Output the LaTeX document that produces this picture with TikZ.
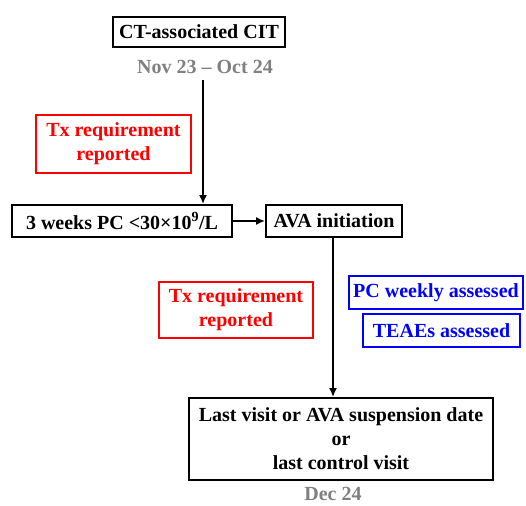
\documentclass[tikz,border=0pt]{standalone}
\usepackage{fontspec}
\setmainfont{Liberation Serif}
\usetikzlibrary{arrows.meta}
\begin{document}
\begin{tikzpicture}[x=1pt,y=-1pt,
box/.style={draw,line width=1.9pt,inner sep=0pt,align=center,font=\bfseries\fontsize{20}{24}\selectfont},
redbox/.style={box,draw=red,text=red,line width=1.5pt},
bluebox/.style={box,draw=blue,text=blue,line width=1.5pt},
datelabel/.style={text=gray,inner sep=0pt,font=\bfseries\fontsize{20}{22}\selectfont},
flow/.style={draw,line width=1.7pt,-{Latex[length=9pt,width=8pt]}}]
\useasboundingbox (0,0) rectangle (526,505);
% top of the timeline
\node[box,minimum width=172pt,minimum height=30pt] (cit) at (199,32) {CT-associated CIT};
\node[datelabel] (start) at (205,67) {Nov 23 -- Oct 24};
\coordinate (startgap) at (203,80);
\node[redbox,minimum width=155pt,minimum height=58pt] (txfirst) at (113.5,144) {Tx requirement\\reported};
% treatment start
\node[box,minimum width=220pt,minimum height=32pt] (pc) at (122,221) {3 weeks PC <30×10\textsuperscript{9}/L};
\node[box,minimum width=136pt,minimum height=32pt] (ava) at (334,221) {AVA initiation};
% follow-up
\node[redbox,minimum width=154pt,minimum height=56pt] (txsecond) at (236,310) {Tx requirement\\reported};
\node[bluebox,minimum width=174pt,minimum height=33pt] (weekly) at (436,292.5) {PC weekly assessed};
\node[bluebox,minimum width=157pt,minimum height=33pt] (teae) at (441.5,330.5) {TEAEs assessed};
\node[box,minimum width=304pt,minimum height=82pt] (last) at (341,439) {Last visit or AVA suspension date\\or\\last control visit};
\node[datelabel] (finish) at (333,494) {Dec 24};
% connectors
\draw[flow] (startgap) -- (startgap |- pc.north);
\draw[flow] (pc) -- (ava);
\draw[flow] (ava.south -| 333,0) -- (last.north -| 333,0);
\end{tikzpicture}
\end{document}
